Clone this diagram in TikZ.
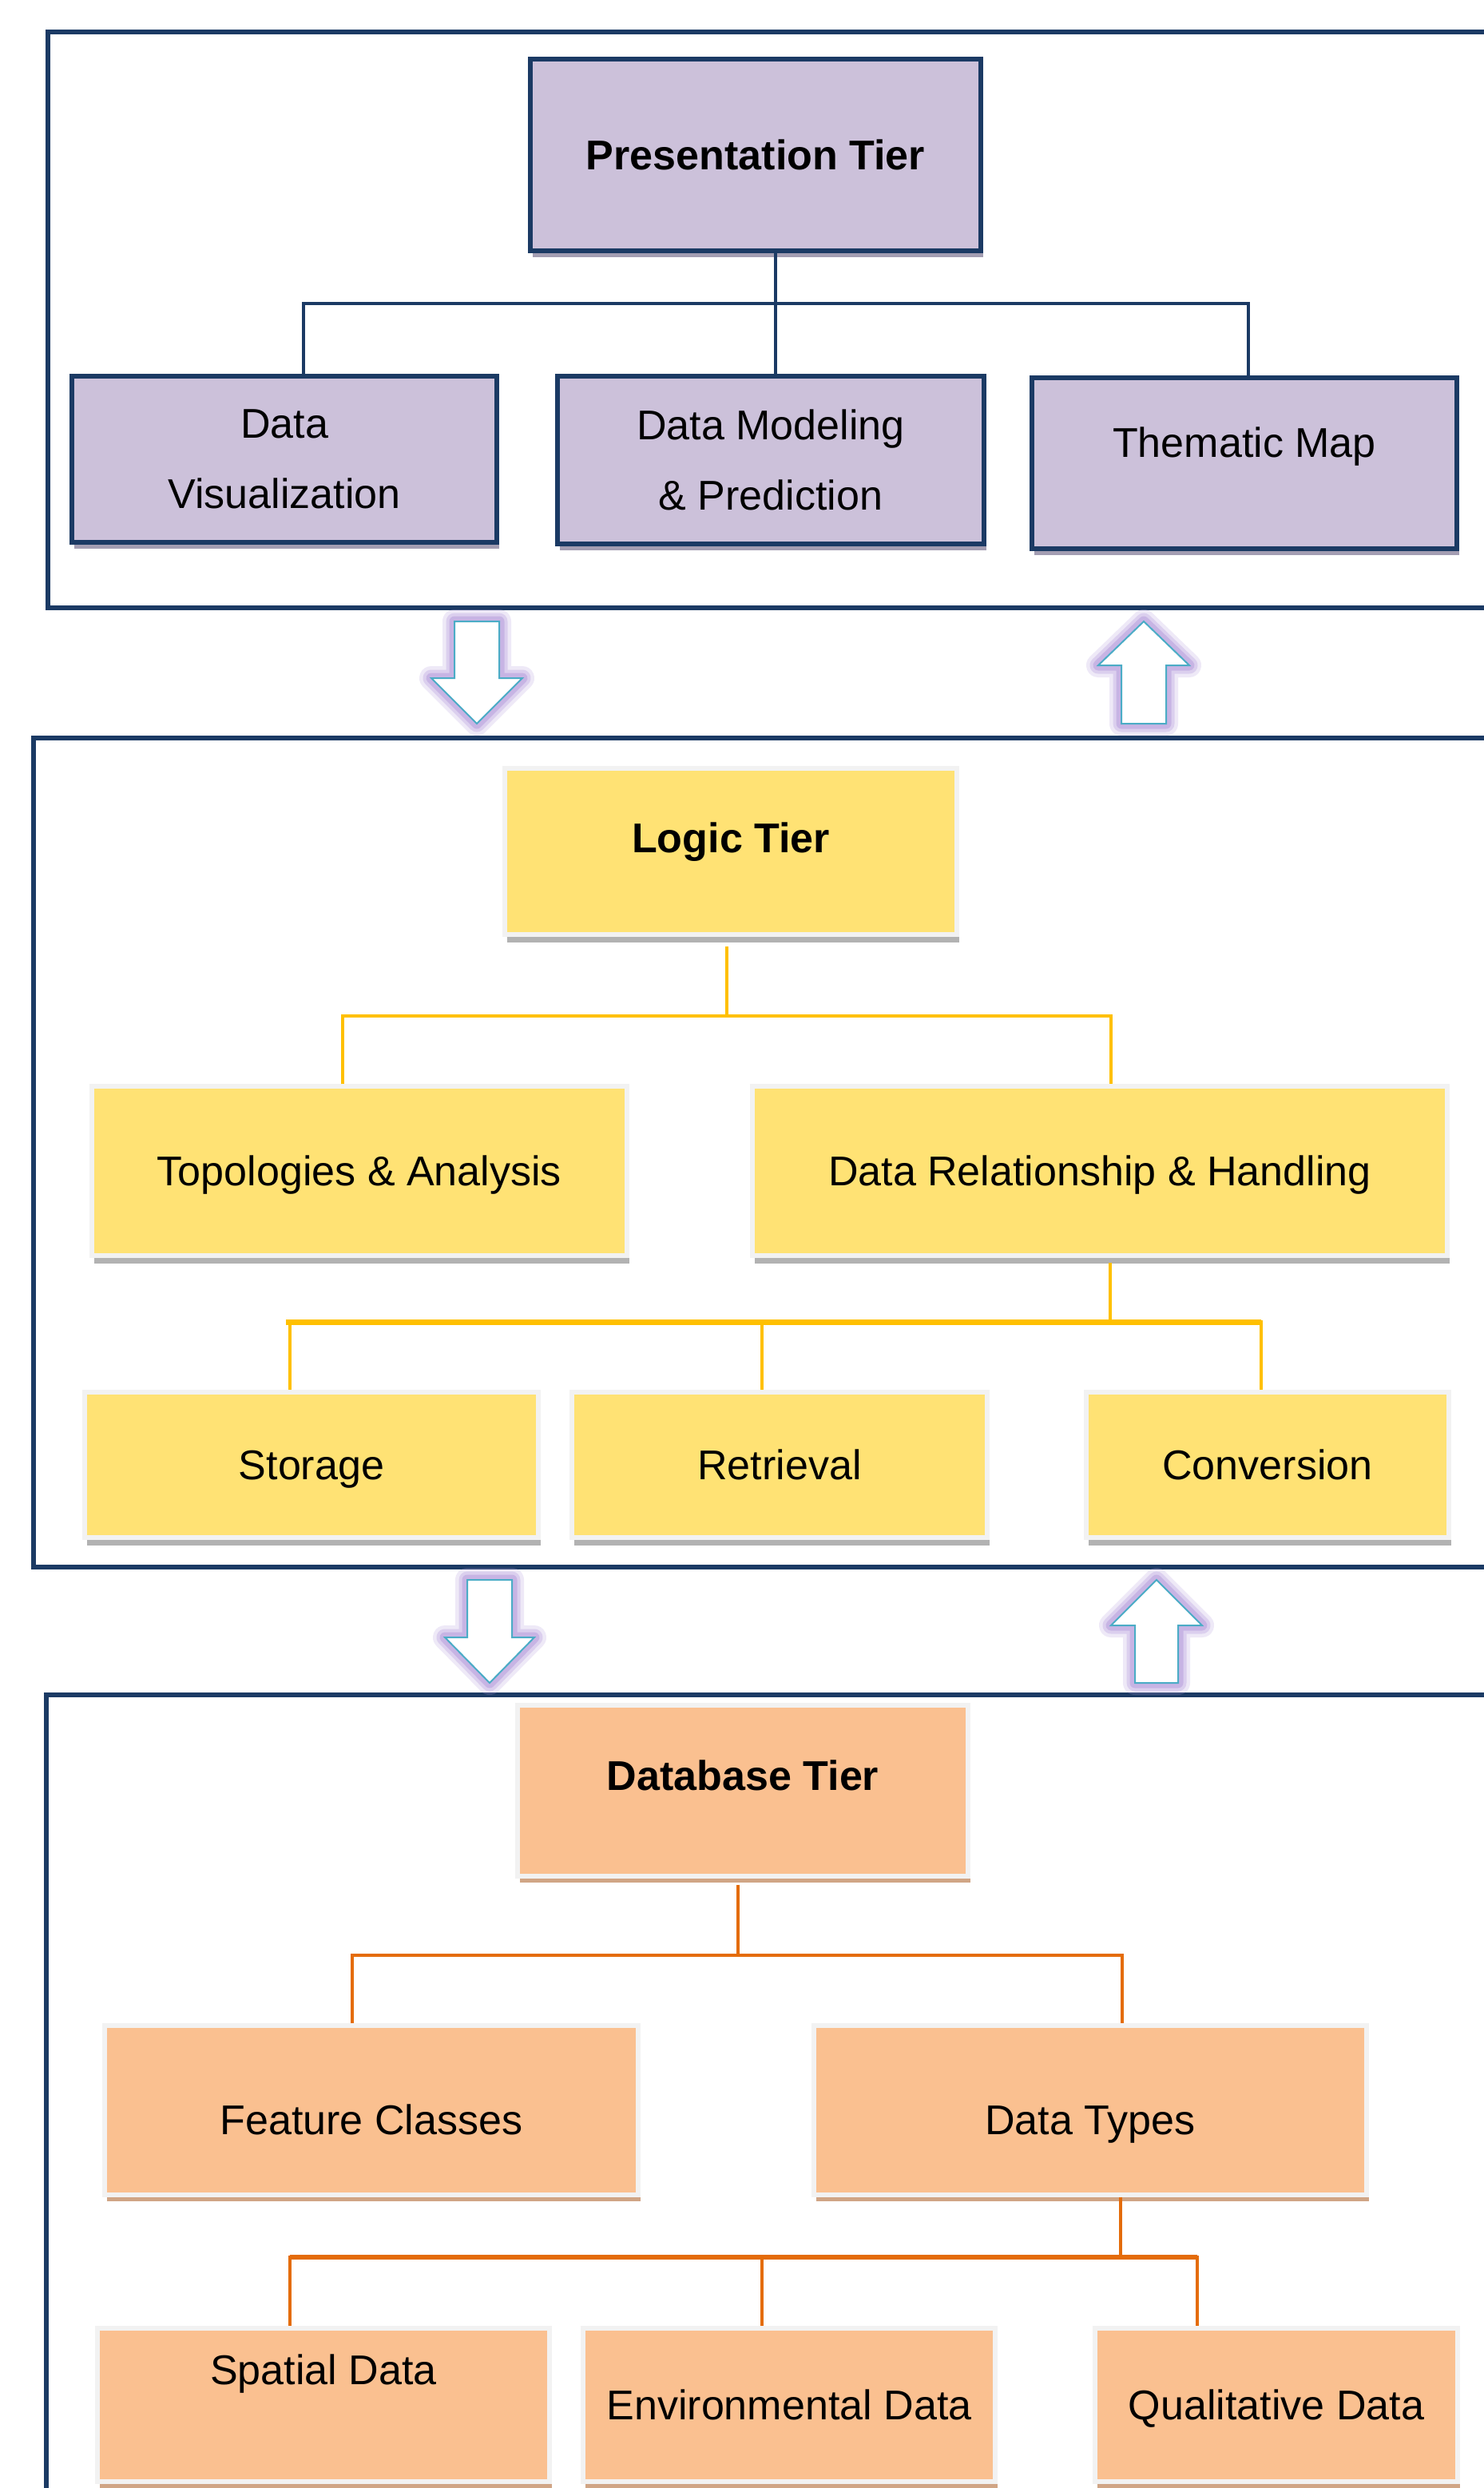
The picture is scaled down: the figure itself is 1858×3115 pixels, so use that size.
\documentclass[tikz,border=0pt]{standalone}
\usepackage{fontspec}
\setmainfont{Liberation Sans}
\usetikzlibrary{calc,shadows}
\definecolor{navy}{HTML}{1B3A64}
\definecolor{lavender}{HTML}{CCC1DA}
\definecolor{lavshadow}{HTML}{A39DB2}
\definecolor{sun}{HTML}{FFE274}
\definecolor{gold}{HTML}{FFC000}
\definecolor{peach}{HTML}{FAC090}
\definecolor{peachshadow}{HTML}{D0A585}
\definecolor{ember}{HTML}{E46C0A}
\definecolor{arrowline}{HTML}{4BACC6}
\definecolor{glow}{HTML}{B49BDC}
\definecolor{rim}{HTML}{F2F2F2}
\newcommand{\boxfont}{\fontsize{14.8}{25}\selectfont}
% hollow block arrow: x, half shaft, half head, shaft end, head base, tip
\newcommand{\tierarrow}[6]{%
  \foreach \w/\o in {30/0.22,21/0.32,13/0.5}
    \draw[glow, line width=\w*0.01cm, opacity=\o, line join=round]
      (#1-#2,#4) -- (#1+#2,#4) -- (#1+#2,#5) -- (#1+#3,#5) -- (#1,#6)
      -- (#1-#3,#5) -- (#1-#2,#5) -- cycle;
  \draw[fill=white, draw=arrowline, line width=0.02cm]
      (#1-#2,#4) -- (#1+#2,#4) -- (#1+#2,#5) -- (#1+#3,#5) -- (#1,#6)
      -- (#1-#3,#5) -- (#1-#2,#5) -- cycle;
}

\begin{document}
\begin{tikzpicture}[x=0.01cm, y=-0.01cm,
    frame/.style={draw=navy, line width=0.06cm},
    oneline/.style={text height=0.37cm, text depth=0cm},
    presbox/.style={draw=navy, line width=0.06cm, fill=lavender, font=\boxfont, align=center,
      drop shadow={shadow xshift=0.03cm, shadow yshift=-0.08cm, fill=lavshadow, opacity=1}},
    logicbox/.style={draw=rim, line width=0.06cm, fill=sun, font=\boxfont, oneline,
      drop shadow={shadow xshift=0.03cm, shadow yshift=-0.1cm, fill=black, opacity=0.3}},
    dbbox/.style={draw=rim, line width=0.06cm, fill=peach, font=\boxfont, oneline,
      drop shadow={shadow xshift=0.03cm, shadow yshift=-0.08cm, fill=peachshadow, opacity=1}},
    title/.style={font=\boxfont\bfseries},
    navyline/.style={draw=navy, line width=0.045cm},
    goldline/.style={draw=gold, line width=0.045cm},
    emberline/.style={draw=ember, line width=0.035cm}]
  \useasboundingbox (0,0) rectangle (1858,3115);
  \clip (0,0) rectangle (1858,3115);
  \fill[white] (0,0) rectangle (1858,3115);

  % tier frames
  \draw[frame] (60,40) rectangle (1920,761);
  \draw[frame] (42,924) rectangle (1920,1962);
  \draw[frame] (58,2122) rectangle (1920,3200);

  % presentation tier
  \node[presbox, title, oneline, minimum width=5.64cm, minimum height=2.39cm] (pres) at (946,194) {Presentation Tier};
  \node[presbox, minimum width=5.31cm, minimum height=2.07cm] (dv) at (356,575) {Data\\Visualization};
  \node[presbox, minimum width=5.33cm, minimum height=2.09cm] (dm) at (965,576) {Data Modeling\\\& Prediction};
  \node[presbox, oneline, minimum width=5.31cm, minimum height=2.13cm, text depth=0.52cm] (tm) at (1558,580) {Thematic Map};

  \coordinate (pbus) at (971,380);
  \draw[navyline] (pres.south -| pbus) -- (dm.north -| pbus);
  \draw[navyline] ($(dv.north)+(24,0)$) |- (pbus) -| ($(tm.north)+(5,0)$);

  % logic tier
  \node[logicbox, title, minimum width=5.66cm, minimum height=2.08cm, text depth=0.34cm] (logic) at (915,1066) {Logic Tier};
  \node[logicbox, minimum width=6.70cm, minimum height=2.11cm] (ta) at (450,1466) {Topologies \& Analysis};
  \node[logicbox, minimum width=8.70cm, minimum height=2.11cm] (drh) at (1377,1466) {Data Relationship \& Handling};
  \node[logicbox, minimum width=5.67cm, minimum height=1.82cm] (st) at (390,1834) {Storage};
  \node[logicbox, minimum width=5.19cm, minimum height=1.82cm] (re) at (976,1834) {Retrieval};
  \node[logicbox, minimum width=4.53cm, minimum height=1.82cm] (co) at (1587,1834) {Conversion};

  \coordinate (lbus) at (910,1272);
  \draw[goldline] ($(logic.south -| lbus)+(0,12)$) -- (lbus);
  \draw[goldline] ($(ta.north)+(-21,0)$) |- (lbus) -| ($(drh.north)+(14,0)$);
  \coordinate (rbus) at (1390,1655);
  \draw[goldline] ($(drh.south -| rbus)+(0,6)$) -- (rbus);
  \draw[goldline] ($(st.north)+(-27,0)$) |- (rbus) -| ($(co.north)+(-8,0)$);
  \draw[goldline, line width=0.07cm] ($(st.north |- rbus)+(-32,0)$) -- ($(co.north |- rbus)+(-8,0)$);
  \draw[goldline] ($(re.north)+(-22,0)$) -- ($(re.north |- rbus)+(-22,0)$);

  % database tier
  \node[dbbox, title, minimum width=5.64cm, minimum height=2.13cm, text depth=0.38cm] (db) at (930,2242) {Database Tier};
  \node[dbbox, minimum width=6.68cm, minimum height=2.11cm, text height=0.61cm] (fc) at (465,2642) {Feature Classes};
  \node[dbbox, minimum width=6.92cm, minimum height=2.11cm, text height=0.61cm] (dt) at (1365,2642) {Data Types};
  \node[dbbox, minimum width=5.65cm, minimum height=1.92cm, text depth=0.88cm] (sd) at (405,3011) {Spatial Data};
  \node[dbbox, minimum width=5.16cm, minimum height=1.92cm] (ed) at (988,3011) {Environmental Data};
  \node[dbbox, minimum width=4.53cm, minimum height=1.92cm] (qd) at (1598,3011) {Qualitative Data};

  \coordinate (dbus) at (924,2448);
  \draw[emberline] ($(db.south -| dbus)+(0,8)$) -- (dbus);
  \draw[emberline] ($(fc.north)+(-24,0)$) |- (dbus) -| ($(dt.north)+(40,0)$);
  \coordinate (tbus) at (1403,2826);
  \draw[emberline] (dt.south -| tbus) -- (tbus);
  \draw[emberline] ($(sd.north)+(-42,0)$) |- (tbus) -| ($(qd.north)+(-99,0)$);
  \draw[emberline, line width=0.055cm] ($(sd.north |- tbus)+(-42,0)$) -- ($(qd.north |- tbus)+(-99,0)$);
  \draw[emberline] ($(ed.north)+(-34,0)$) -- ($(ed.north |- tbus)+(-34,0)$);

  % arrows between tiers
  \tierarrow{597}{28}{57}{778}{849}{906}
  \tierarrow{1432}{28}{57}{906}{833}{778}
  \tierarrow{613}{28}{56}{1978}{2050}{2107}
  \tierarrow{1448}{27}{57}{2107}{2035}{1978}
\end{tikzpicture}
\end{document}
